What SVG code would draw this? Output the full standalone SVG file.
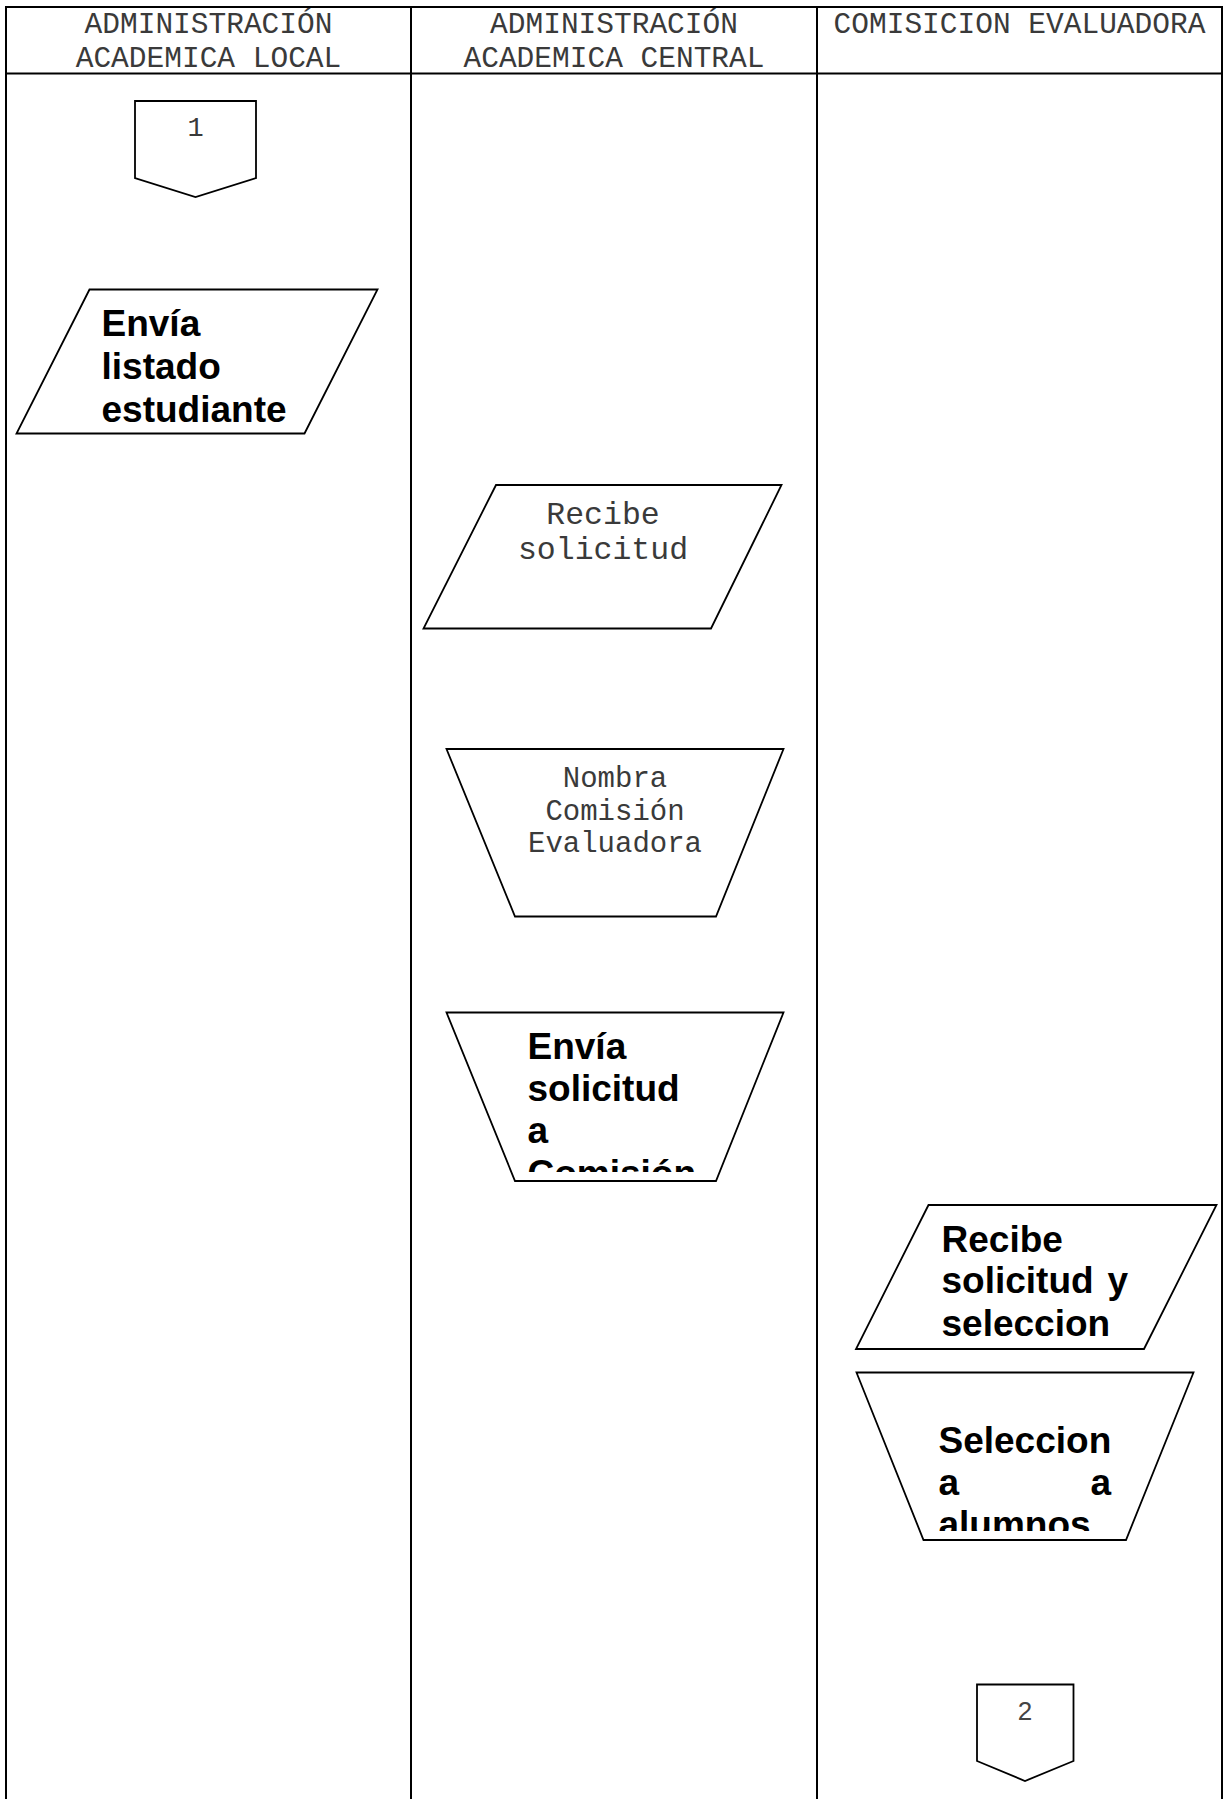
<svg xmlns="http://www.w3.org/2000/svg" width="1225" height="1799" viewBox="0 0 1225 1799">
  <style>
    .grid { stroke: #000; stroke-width: 2; fill: none; }
    .shape { fill: #fff; stroke: #000; stroke-width: 1.8; stroke-linejoin: miter; }
    .mono { font-family: "Liberation Mono", "DejaVu Sans Mono", monospace; fill: #3a3a3a; }
    .head { font-size: 29.5px; text-anchor: middle; }
    .bold { font-family: "Liberation Sans", Arial, sans-serif; font-weight: bold; font-size: 37px; fill: #000; }
    .sans { font-family: "Liberation Sans", Arial, sans-serif; fill: #444; }
  </style>
  <defs>
    <clipPath id="clip-envia-solicitud">
      <rect x="440" y="1015" width="350" height="157"/>
    </clipPath>
    <clipPath id="clip-selecciona">
      <rect x="850" y="1375" width="350" height="156"/>
    </clipPath>
  </defs>

  <rect width="1225" height="1799" fill="#fff"/>

  <!-- swimlane table -->
  <g id="lanes">
    <line class="grid" x1="5" y1="7" x2="1223" y2="7"/>
    <line class="grid" x1="5" y1="73.5" x2="1223" y2="73.5"/>
    <line class="grid" x1="6" y1="6" x2="6" y2="1799"/>
    <line class="grid" x1="411" y1="6" x2="411" y2="1799"/>
    <line class="grid" x1="817" y1="6" x2="817" y2="1799"/>
    <line class="grid" x1="1222" y1="6" x2="1222" y2="1799"/>
    <text class="mono head" x="208.5" y="33">ADMINISTRACIÓN</text>
    <text class="mono head" x="208.5" y="67">ACADEMICA LOCAL</text>
    <text class="mono head" x="614" y="33">ADMINISTRACIÓN</text>
    <text class="mono head" x="614" y="67">ACADEMICA CENTRAL</text>
    <text class="mono head" x="1019.5" y="33">COMISICION EVALUADORA</text>
  </g>

  <!-- off-page connector 1 -->
  <g id="connector-1">
    <path class="shape" d="M135,101 H256 V178 L195.5,197 L135,178 Z"/>
    <text class="mono" x="195.5" y="136" font-size="27" text-anchor="middle">1</text>
  </g>

  <!-- Envía listado estudiante -->
  <g id="envia-listado">
    <path class="shape" d="M89.5,289.5 H377.5 L304.5,433.5 H16.5 Z"/>
    <text class="bold" x="101.5" y="336">Envía</text>
    <text class="bold" x="101.5" y="379">listado</text>
    <text class="bold" x="101.5" y="422">estudiante</text>
  </g>

  <!-- Recibe solicitud -->
  <g id="recibe-solicitud">
    <path class="shape" d="M496,485 H781.5 L711,628.5 H423.5 Z"/>
    <text class="mono" x="603" y="524" font-size="31.5" text-anchor="middle">Recibe</text>
    <text class="mono" x="603" y="559" font-size="31.5" text-anchor="middle">solicitud</text>
  </g>

  <!-- Nombra Comisión Evaluadora -->
  <g id="nombra-comision">
    <path class="shape" d="M446.5,749 H783.5 L716,916.5 H515 Z"/>
    <text class="mono" x="615" y="787" font-size="29" text-anchor="middle">Nombra</text>
    <text class="mono" x="615" y="820" font-size="29" text-anchor="middle">Comisión</text>
    <text class="mono" x="615" y="852" font-size="29" text-anchor="middle">Evaluadora</text>
  </g>

  <!-- Envía solicitud a Comisión -->
  <g id="envia-solicitud">
    <path class="shape" d="M446.5,1012.5 H783.5 L716,1181 H515 Z"/>
    <g clip-path="url(#clip-envia-solicitud)">
      <text class="bold" x="527.5" y="1059">Envía</text>
      <text class="bold" x="527.5" y="1101">solicitud</text>
      <text class="bold" x="527.5" y="1143">a</text>
      <text class="bold" x="527.5" y="1186">Comisión</text>
    </g>
  </g>

  <!-- Recibe solicitud y selecciona -->
  <g id="recibe-selecciona">
    <path class="shape" d="M928.5,1205 H1216.5 L1144,1349 H856 Z"/>
    <text class="bold" x="941.5" y="1252">Recibe</text>
    <text class="bold" x="941.5" y="1293">solicitud</text>
    <text class="bold" x="1128" y="1293" text-anchor="end">y</text>
    <text class="bold" x="941.5" y="1336">seleccion</text>
  </g>

  <!-- Selecciona a alumnos -->
  <g id="selecciona-alumnos">
    <path class="shape" d="M856.5,1372.5 H1193.5 L1126,1540 H923.5 Z"/>
    <g clip-path="url(#clip-selecciona)">
      <text class="bold" x="938.5" y="1453">Seleccion</text>
      <text class="bold" x="938.5" y="1495">a</text>
      <text class="bold" x="1111" y="1495" text-anchor="end">a</text>
      <text class="bold" x="938.5" y="1537">alumnos</text>
    </g>
  </g>

  <!-- off-page connector 2 -->
  <g id="connector-2">
    <path class="shape" d="M977,1684.5 H1073.5 V1761 L1025,1781 L977,1761 Z"/>
    <text class="sans" x="1025" y="1720" font-size="26" text-anchor="middle">2</text>
  </g>

  <g id="connectors"/>
</svg>
